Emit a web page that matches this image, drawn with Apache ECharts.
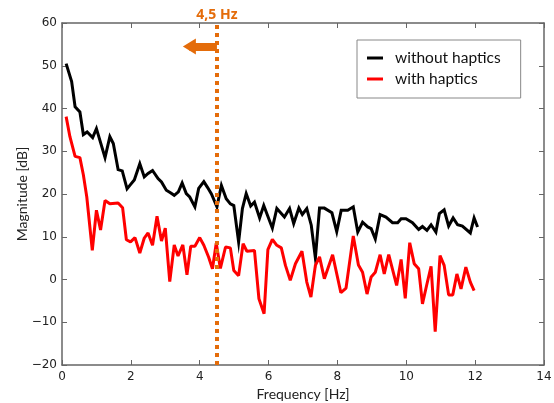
<!DOCTYPE html>
<html>
<head>
<meta charset="utf-8">
<script src="https://cdn.jsdelivr.net/npm/echarts@6/dist/echarts.min.js"></script>
<style>html,body{margin:0;padding:0;background:#fff}#c{width:554px;height:403px}</style>
</head>
<body>
<div id="c"></div>
<script>
var seriesNames = ['without haptics', 'with haptics'];
var xTicks = [0, 2, 4, 6, 8, 10, 12, 14];
var yTicks = [-20, -10, 0, 10, 20, 30, 40, 50, 60];
var cutoffFreq = 4.5;
var cutoffLabel = '4,5 Hz';

var freqWithout = [0.12,0.28,0.38,0.52,0.62,0.73,0.89,1.0,1.25,1.39,1.49,1.63,1.75,1.89,2.0,2.1,2.26,2.39,2.5,2.63,2.79,2.89,3.03,3.15,3.26,3.38,3.49,3.61,3.71,3.86,3.97,4.12,4.23,4.34,4.5,4.63,4.77,4.89,4.99,5.13,5.24,5.35,5.48,5.59,5.74,5.86,6.11,6.24,6.35,6.46,6.61,6.73,6.88,6.98,7.11,7.24,7.36,7.48,7.62,7.84,7.98,8.11,8.30,8.46,8.59,8.73,8.88,8.98,9.1,9.24,9.41,9.6,9.75,9.85,9.99,10.18,10.36,10.47,10.6,10.72,10.86,10.96,11.1,11.23,11.36,11.49,11.63,11.86,11.97,12.07];
var magWithout = [50.5,46.3,40.4,39.2,33.9,34.5,33.2,35.3,28.5,33.4,31.8,25.7,25.4,21.2,22.3,23.3,27.1,24.0,24.8,25.5,23.6,22.8,20.9,20.3,19.7,20.5,22.6,20.1,19.3,17.0,21.3,22.9,21.5,20.0,17.0,22.0,18.9,17.7,17.3,8.8,16.6,20.1,17.2,18.1,14.4,17.3,12.0,16.6,15.6,14.6,16.6,13.1,16.7,15.2,16.6,12.7,5.0,16.7,16.7,15.6,11.2,16.2,16.2,17.0,11.1,13.4,12.3,11.9,9.5,15.2,14.6,13.3,13.3,14.2,14.2,13.3,11.7,12.4,11.5,12.8,11.1,15.4,16.3,12.5,14.4,12.8,12.5,10.9,14.4,12.3];

var freqWith = [0.12,0.23,0.38,0.52,0.62,0.72,0.88,1.0,1.12,1.25,1.39,1.63,1.76,1.87,1.99,2.12,2.26,2.39,2.5,2.63,2.76,2.89,3.0,3.13,3.26,3.37,3.51,3.63,3.74,3.86,4.0,4.12,4.26,4.37,4.48,4.6,4.75,4.89,4.99,5.13,5.26,5.37,5.59,5.72,5.87,5.98,6.11,6.24,6.37,6.49,6.63,6.78,6.97,7.11,7.23,7.36,7.48,7.62,7.86,8.1,8.25,8.46,8.61,8.73,8.86,8.98,9.1,9.24,9.36,9.49,9.72,9.85,9.97,10.1,10.23,10.36,10.47,10.59,10.72,10.84,10.98,11.1,11.23,11.35,11.47,11.59,11.73,11.86,11.97];
var magWith = [38.1,33.4,28.8,28.5,24.5,19.3,6.8,16.2,11.6,18.5,17.7,17.9,16.8,9.3,8.8,9.8,6.2,9.7,10.9,8.0,14.8,9.0,12.0,-0.5,8.1,5.5,8.1,1.1,7.8,7.8,9.8,8.0,5.2,2.5,8.5,2.6,7.6,7.4,2.1,0.9,8.4,6.6,6.8,-4.5,-8.0,7.0,9.4,8.0,7.4,3.3,-0.2,3.7,6.6,-0.6,-4.1,3.3,5.3,0.2,5.8,-3.1,-2.0,10.2,3.4,1.7,-3.4,0.6,1.7,5.8,1.3,5.8,-1.4,4.7,-4.4,8.6,3.7,2.5,-5.7,-1.4,3.1,-12.2,5.6,3.3,-3.6,-3.6,1.3,-2.2,2.9,-0.6,-2.6];

function pairs(fs, vs) { return fs.map(function (f, i) { return [f, vs[i]]; }); }

var ORANGE = '#E46C0A';
var SPINE = '#666666';
var tickFont = { fontFamily: 'DejaVu Sans', fontSize: 12, color: '#222' };
var minusFmt = function (v) { return String(v).replace('-', '\u2212'); };

var chart = echarts.init(document.getElementById('c'), null, { renderer: 'canvas' });
chart.setOption({
  animation: false,
  backgroundColor: '#fff',
  grid: { left: 62, right: 10, top: 23, bottom: 38, containLabel: false, outerBoundsMode: 'none' },
  legend: {
    left: 357, top: 40,
    orient: 'vertical',
    data: seriesNames,
    icon: 'rect',
    itemWidth: 16, itemHeight: 3,
    itemGap: 5,
    padding: [10, 20, 11, 10],
    borderColor: '#888', borderWidth: 1,
    backgroundColor: '#fff',
    textStyle: { fontFamily: 'Lato', fontSize: 15.5, color: '#111', lineHeight: 16, padding: [0, 0, 0, 7] }
  },
  xAxis: [{
    type: 'value', min: xTicks[0], max: xTicks[xTicks.length - 1], interval: 2,
    name: 'Frequency [Hz]', nameLocation: 'middle', nameGap: 22,
    nameTextStyle: { fontFamily: 'Lato', fontSize: 14, color: '#222' },
    axisLine: { show: true, onZero: false, lineStyle: { color: SPINE, width: 1.5 } },
    axisTick: { show: true, inside: true, length: 5, lineStyle: { color: SPINE } },
    axisLabel: Object.assign({ margin: 6, formatter: minusFmt }, tickFont),
    splitLine: { show: false }
  }, {
    type: 'value', position: 'top', min: xTicks[0], max: xTicks[xTicks.length - 1], interval: 2,
    axisLine: { show: true, onZero: false, lineStyle: { color: SPINE, width: 1.5 } },
    axisTick: { show: true, inside: true, length: 5, lineStyle: { color: SPINE } },
    axisLabel: { show: false }, splitLine: { show: false }
  }],
  yAxis: [{
    type: 'value', min: yTicks[0], max: yTicks[yTicks.length - 1], interval: 10,
    name: 'Magnitude [dB]', nameLocation: 'middle', nameGap: 33, nameRotate: 90,
    nameMoveOverlap: false,
    nameTextStyle: { fontFamily: 'Lato', fontSize: 14, color: '#222' },
    axisLine: { show: true, onZero: false, lineStyle: { color: SPINE, width: 1.5 } },
    axisTick: { show: true, inside: true, length: 5, lineStyle: { color: SPINE } },
    axisLabel: Object.assign({ margin: 5, formatter: minusFmt }, tickFont),
    splitLine: { show: false }
  }, {
    type: 'value', position: 'right', min: yTicks[0], max: yTicks[yTicks.length - 1], interval: 10,
    axisLine: { show: true, onZero: false, lineStyle: { color: SPINE, width: 1.5 } },
    axisTick: { show: true, inside: true, length: 5, lineStyle: { color: SPINE } },
    axisLabel: { show: false }, splitLine: { show: false }
  }],
  series: [{
    name: seriesNames[0], type: 'line', showSymbol: false, symbol: 'none',
    data: pairs(freqWithout, magWithout),
    lineStyle: { color: '#000', width: 3, join: 'miter' }, itemStyle: { color: '#000' }, z: 2
  }, {
    name: seriesNames[1], type: 'line', showSymbol: false, symbol: 'none',
    data: pairs(freqWith, magWith),
    lineStyle: { color: '#FF0000', width: 3 }, itemStyle: { color: '#FF0000' }, z: 3,
    markLine: {
      silent: true, animation: false,
      symbol: ['none', 'none'],
      data: [
        {
          xAxis: cutoffFreq,
          lineStyle: { color: ORANGE, width: 4, type: [4, 4], cap: 'butt' },
          label: { show: true, position: 'end', distance: 1, formatter: cutoffLabel,
                   color: ORANGE, fontWeight: 'bold', fontSize: 14, fontFamily: 'Open Sans' }
        },
        [
          { coord: [cutoffFreq, 54.5], symbol: 'none',
            lineStyle: { color: ORANGE, width: 8, type: 'solid', cap: 'butt' },
            label: { show: false } },
          { coord: [3.7, 54.5], symbol: 'triangle', symbolSize: [16, 13] }
        ]
      ]
    }
  }]
});
</script>
</body>
</html>
